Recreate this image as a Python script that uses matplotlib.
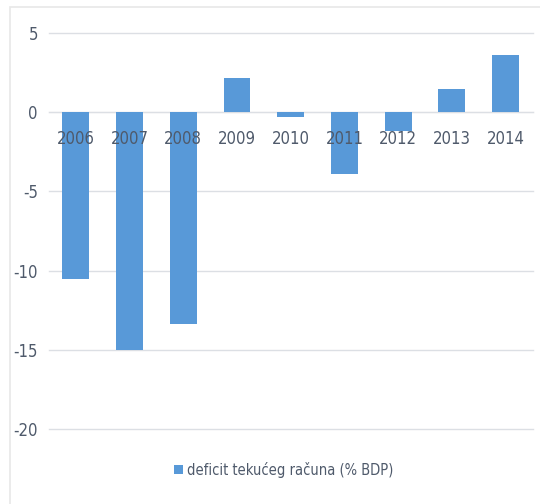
import matplotlib.pyplot as plt
from matplotlib.patches import Rectangle

years = ['2006', '2007', '2008', '2009', '2010', '2011', '2012', '2013', '2014']
deficit = [-10.5, -15.0, -13.35, 2.15, -0.3, -3.9, -1.18, 1.45, 3.6]
series_name = 'deficit tekućeg računa (% BDP)'
yticks = [5, 0, -5, -10, -15, -20]

plt.rcParams['font.family'] = ['DejaVu Sans']
plt.rcParams['font.stretch'] = 'condensed'
text_color = '#4f5a6b'

fig = plt.figure(figsize=(5.4, 5.04), dpi=100)
ax = fig.add_axes([49 / 540, 1 - 429 / 504, (532.5 - 49) / 540, (429 - 33) / 504])

# light chart frame
fig.patches.append(Rectangle((10 / 540, -0.05), 1.1, 1 - 6.5 / 504 + 0.05,
                             transform=fig.transFigure, fill=False,
                             edgecolor='#e8e8e8', linewidth=1.2))

ax.bar(years, deficit, width=0.5, color='#5899d8', label=series_name, zorder=3)

ax.set_ylim(-20, 5)
ax.set_xlim(-0.5, len(years) - 0.5)
ax.set_yticks(yticks)
ax.set_yticklabels([str(v) for v in yticks])
ax.yaxis.grid(True, color='#dcdfe4', linewidth=1.0)
ax.set_axisbelow(True)
ax.xaxis.set_zorder(5)
for gl in ax.get_ygridlines():
    gl.set_clip_on(False)

for s in ['top', 'right', 'left']:
    ax.spines[s].set_visible(False)
ax.spines['bottom'].set_position(('data', 0))
ax.spines['bottom'].set_color('#dcdfe4')
ax.spines['bottom'].set_zorder(1)

ax.tick_params(axis='y', length=0, pad=8, labelsize=12, labelcolor=text_color)
ax.tick_params(axis='x', length=0, pad=13, labelsize=12, labelcolor=text_color)

fig.legend(loc='center', bbox_to_anchor=(284 / 540, 1 - 470 / 504), frameon=False,
           fontsize=10.5, handlelength=0.6, handleheight=0.6, handletextpad=0.3,
           labelcolor=text_color)

fig.savefig('out.png', dpi=100)
